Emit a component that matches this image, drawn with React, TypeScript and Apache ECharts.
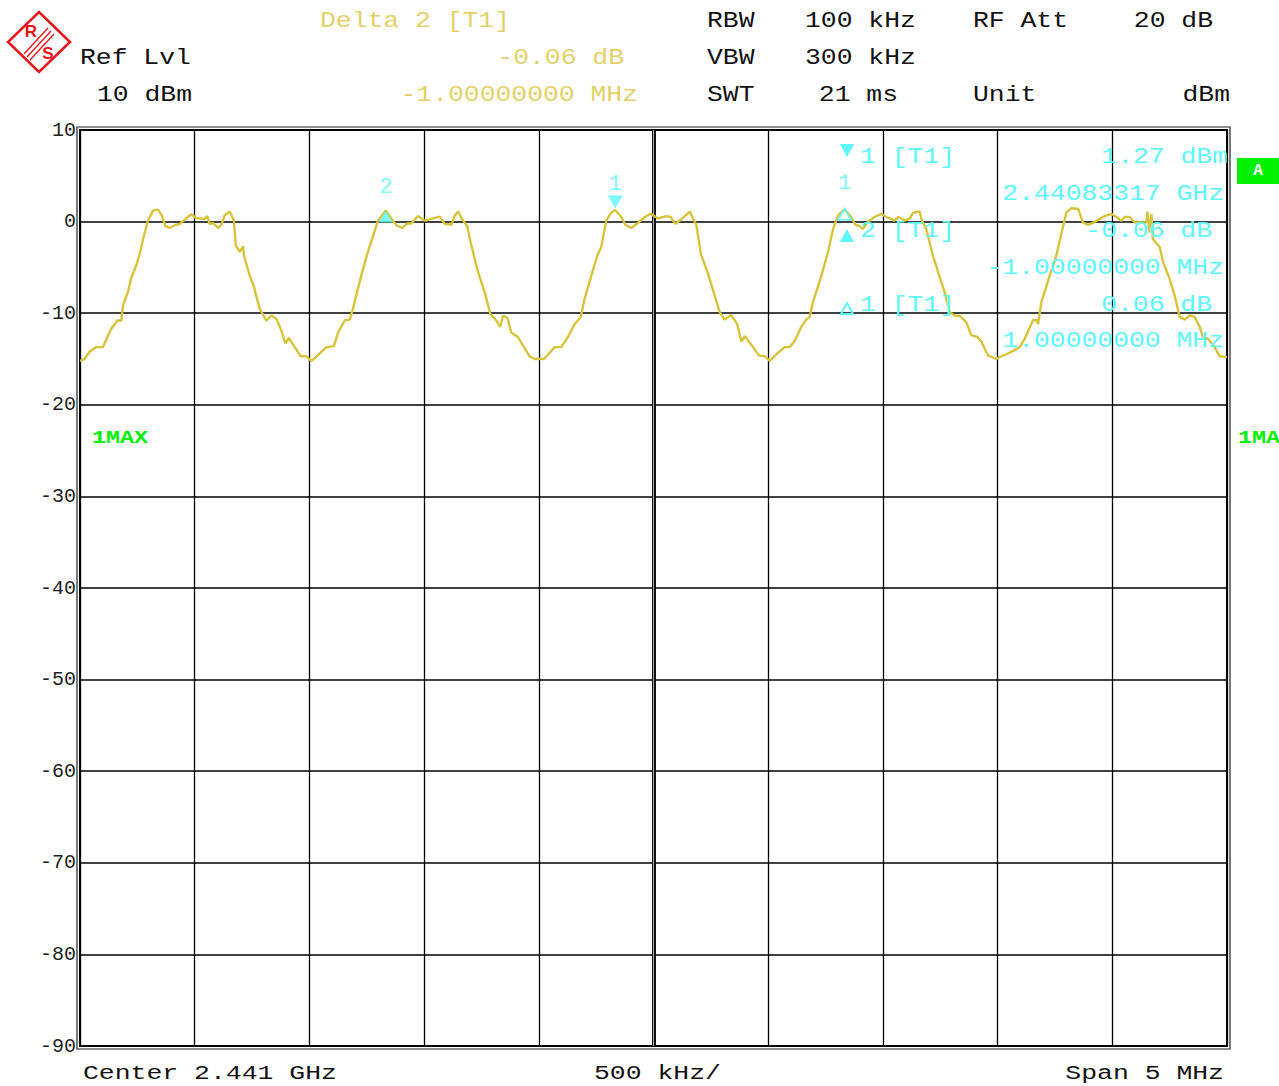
import React, { useEffect, useRef } from "react";
import * as echarts from "echarts";

// Frequency offset from center (MHz) and level (dBm) of the MAX trace
const traceFreqMHz = [
  -2.5, -2.48, -2.458, -2.429, -2.4, -2.364, -2.337, -2.32, -2.313, -2.291, -2.276, -2.255, -2.237, -2.225, -2.204, -2.182, -2.16, -2.143, -2.128, -2.109, -2.087, -2.065, -2.044, -2.015, -1.993, -1.956, -1.945, -1.935, -1.92, -1.898, -1.884, -1.869, -1.847, -1.829, -1.821, -1.804, -1.789, -1.785, -1.76, -1.743, -1.717, -1.688, -1.666, -1.644, -1.622, -1.605, -1.59, -1.564, -1.538, -1.514, -1.492,
  -1.477, -1.426, -1.393, -1.375, -1.346, -1.324, -1.31, -1.274, -1.245, -1.215, -1.201, -1.167, -1.136, -1.121, -1.096, -1.073, -1.056, -1.027, -0.997, -0.961, -0.932, -0.91, -0.881, -0.867, -0.852, -0.835, -0.812, -0.794, -0.765, -0.736, -0.711, -0.685, -0.668, -0.656, -0.637, -0.62, -0.591, -0.562, -0.54, -0.518, -0.489,
  -0.477, -0.431, -0.402, -0.373, -0.344, -0.317, -0.3, -0.271, -0.245, -0.228, -0.206, -0.184, -0.167, -0.14, -0.123, -0.097, -0.068, -0.038, -0.012, 0.02, 0.056, 0.075, 0.095, 0.119, 0.158, 0.187, 0.206, 0.238, 0.267, 0.289, 0.31, 0.339, 0.365, 0.383, 0.398, 0.412, 0.434, 0.459, 0.485, 0.507,
  0.535, 0.572, 0.594, 0.616, 0.644, 0.666, 0.681, 0.695, 0.732, 0.761, 0.783, 0.804, 0.833, 0.862, 0.88, 0.899, 0.913, 0.935, 0.964, 0.993, 1.015, 1.037, 1.048, 1.069, 1.095, 1.117, 1.131, 1.16, 1.17, 1.189, 1.218, 1.248, 1.269, 1.291, 1.313, 1.335, 1.364, 1.385, 1.412, 1.429, 1.458, 1.494, 1.516,
  1.545, 1.575, 1.596, 1.618, 1.654, 1.669, 1.676, 1.691, 1.727, 1.756, 1.778, 1.8, 1.821, 1.851, 1.872, 1.894, 1.916, 1.938, 1.967, 1.996, 2.018, 2.039, 2.054, 2.076, 2.098, 2.127, 2.148, 2.153, 2.163, 2.17, 2.177, 2.207, 2.221, 2.25, 2.272, 2.294, 2.316, 2.337, 2.359, 2.381, 2.395, 2.417, 2.446, 2.468, 2.5,
];
const traceLevelDbm = [
  -15.2, -15.0, -14.2, -13.7, -13.7, -11.7, -10.8, -10.8, -9.2, -7.7, -6.1, -4.8, -3.3, -1.9, 0.1, 1.2, 1.3, 0.65, -0.5, -0.7, -0.4, -0.25, 0.2, 0.8, 0.4, 0.3, 0.6, -0.25, -0.15, -0.7, -0.35, 0.7, 1.1, 0.1, -2.6, -3.3, -2.7, -3.7, -5.9, -7.0, -9.5, -10.8, -10.25, -10.6, -11.9, -13.3, -12.7, -13.7, -14.7, -14.7, -15.2,
  -14.9, -13.7, -13.6, -12.1, -10.8, -10.7, -9.5, -5.9, -3.3, -1.0, 0.1, 1.21, 0.1, -0.4, -0.7, -0.2, -0.2, 0.6, 0.1, 0.35, 0.55, -0.25, -0.35, 0.65, 1.1, 0.3, -0.5, -2.6, -5.5, -7.7, -10.1, -10.8, -11.5, -10.25, -10.5, -12.1, -12.6, -13.8, -14.7, -15.0, -15.0,
  -15.0, -13.7, -13.7, -12.6, -11.2, -10.4, -8.4, -5.9, -3.7, -2.8, 0.1, 1.0, 1.27, 0.5, -0.35, -0.7, -0.15, 0.5, 0.85, 0.35, 0.6, 0.5, -0.25, 0.2, 1.1, -0.4, -3.5, -5.7, -8.1, -9.9, -10.7, -10.2, -11.2, -13.1, -12.5, -13.0, -13.7, -14.6, -14.7, -15.2,
  -14.5, -13.7, -13.7, -13.0, -11.5, -10.7, -10.4, -8.8, -5.9, -3.3, -0.8, 0.65, 1.33, 0.5, -0.35, -0.5, -0.8, 0.0, 0.5, 0.85, 0.5, 0.3, 0.1, 0.5, 0.1, 0.35, 0.95, 1.1, 0.1, -0.8, -3.7, -6.1, -7.7, -9.9, -10.25, -10.3, -11.0, -12.4, -12.6, -13.1, -14.6, -15.0, -14.7,
  -14.4, -14.0, -13.7, -12.8, -10.8, -10.7, -11.2, -8.8, -5.9, -3.7, -1.3, 1.0, 1.45, 1.4, -0.1, -0.35, -0.15, 0.2, 0.6, 0.85, 0.5, 0.1, 0.5, 0.5, -0.1, -0.1, -0.1, 1.1, -1.2, 0.85, -1.9, -2.8, -4.4, -6.25, -8.1, -10.4, -10.7, -10.25, -10.4, -11.5, -12.6, -12.8, -13.7, -14.7, -14.8,
];

// Markers: label, frequency offset (MHz), level (dBm)
const markerLabels = ["2", "1", "1"];
const markerFreqMHz = [-1.167, -0.167, 0.833];
const markerLevelDbm = [1.21, 1.27, 1.33];

// Axes
const yMin = -90;
const yMax = 10;
const yStep = 10;
const xMin = -2.5;
const xMax = 2.5;
const xStep = 0.5;

const MONO = '"Liberation Mono", "Courier New", monospace';
const TRACE = "#d6c43c";
const HDR_YELLOW = "#e2d16a";
const CYAN = "#5ef8f8";
const GREEN = "#00f000";

function txt(text: string, x: number, y: number, fill: string, align: string = "left", size = 22, sx = 1.2, bold = false) {
  return {
    type: "text",
    x,
    y,
    scaleX: sx,
    z: 100,
    style: {
      text,
      fill,
      font: `${bold ? "bold " : ""}${size}px ${MONO}`,
      align,
      verticalAlign: "middle",
      textAlign: align,
      textVerticalAlign: "middle",
    },
  };
}

export default function App() {
  const ref = useRef<HTMLDivElement>(null);
  useEffect(() => {
    const chart = echarts.init(ref.current!, null, { renderer: "svg" });
    const traceData = traceFreqMHz.map((f, i) => [f, traceLevelDbm[i]]);
    const markerData = markerFreqMHz.map((f, i) => {
      const base: any = {
        value: [f, markerLevelDbm[i]],
        itemStyle: { color: CYAN },
        label: {
          show: true,
          formatter: markerLabels[i],
          position: "top",
          color: CYAN,
          fontFamily: MONO,
          fontSize: 22,
        },
      };
      if (i === 0) {
        base.symbol = "triangle";
        base.symbolSize = [14, 12];
        base.symbolOffset = [0, 6];
        base.label.distance = 12;
      } else if (i === 1) {
        base.symbol = "path://M0,0 L14,0 L7,13 Z";
        base.symbolSize = [15, 13];
        base.symbolOffset = [0, -8];
        base.label.distance = 0;
      } else {
        base.symbol = "triangle";
        base.symbolSize = [13, 11];
        base.symbolOffset = [0, 5];
        base.itemStyle = { color: "rgba(0,0,0,0)", borderColor: CYAN, borderWidth: 2 };
        base.label.distance = 13;
      }
      return base;
    });

    const graphic: any[] = [
      // header
      txt("Delta 2 [T1]", 320, 21, HDR_YELLOW),
      txt("RBW", 707, 21, "#111"),
      txt("100 kHz", 805, 21, "#111"),
      txt("RF Att", 973, 21, "#111"),
      txt("20 dB", 1213, 21, "#111", "right"),
      txt("Ref Lvl", 80, 58, "#111"),
      txt("-0.06 dB", 624, 58, HDR_YELLOW, "right"),
      txt("VBW", 707, 58, "#111"),
      txt("300 kHz", 805, 58, "#111"),
      txt("10 dBm", 97, 95, "#111"),
      txt("-1.00000000 MHz", 638, 95, HDR_YELLOW, "right"),
      txt("SWT", 707, 95, "#111"),
      txt("21 ms", 898, 95, "#111", "right"),
      txt("Unit", 973, 95, "#111"),
      txt("dBm", 1230, 95, "#111", "right"),
      // footer
      txt("Center 2.441 GHz", 83, 1073, "#111", "left", 21, 1.26),
      txt("500 kHz/", 594, 1073, "#111", "left", 21, 1.26),
      txt("Span 5 MHz", 1224, 1073, "#111", "right", 21, 1.26),
      // marker info block
      txt("1 [T1]", 860, 157, CYAN),
      txt("1.27 dBm", 1228, 157, CYAN, "right"),
      txt("2.44083317 GHz", 1224, 194, CYAN, "right"),
      txt("2 [T1]", 860, 231, CYAN),
      txt("-0.06 dB", 1212, 231, CYAN, "right"),
      txt("-1.00000000 MHz", 1224, 268, CYAN, "right"),
      txt("1 [T1]", 860, 305, CYAN),
      txt("0.06 dB", 1212, 305, CYAN, "right"),
      txt("1.00000000 MHz", 1224, 341, CYAN, "right"),
      { type: "polygon", z: 100, shape: { points: [[840, 144], [854, 144], [847, 157]] }, style: { fill: CYAN } },
      { type: "polygon", z: 100, shape: { points: [[840, 242], [854, 242], [847, 229]] }, style: { fill: CYAN } },
      { type: "polygon", z: 100, shape: { points: [[841, 314], [853, 314], [847, 303]] }, style: { fill: "none", stroke: CYAN, lineWidth: 2 } },
      // trace labels
      txt("1MAX", 92, 438, GREEN, "left", 18, 1.3, true),
      txt("1MA", 1238, 438, GREEN, "left", 18, 1.3, true),
      { type: "rect", z: 100, shape: { x: 1237, y: 158, width: 42, height: 26 }, style: { fill: GREEN } },
      { type: "text", z: 101, x: 1258, y: 171, style: { text: "A", fill: "#fff", font: `bold 16px ${MONO}`, align: "center", verticalAlign: "middle", textAlign: "center", textVerticalAlign: "middle" } },
      // outer border of the grid (double line look)
      { type: "rect", z: 50, shape: { x: 77, y: 127, width: 1153, height: 922 }, style: { fill: "none", stroke: "#222", lineWidth: 1.2 } },
      // logo
      { type: "polygon", z: 100, shape: { points: [[39, 12], [70, 42], [39, 72], [8, 42]] }, style: { fill: "#fff", stroke: "#e8141c", lineWidth: 2.5 } },
      { type: "line", z: 101, shape: { x1: 24, y1: 54, x2: 48, y2: 28 }, style: { stroke: "#e8141c", lineWidth: 1.3 } },
      { type: "line", z: 101, shape: { x1: 27, y1: 57, x2: 51, y2: 31 }, style: { stroke: "#e8141c", lineWidth: 1.3 } },
      { type: "line", z: 101, shape: { x1: 30, y1: 60, x2: 54, y2: 34 }, style: { stroke: "#e8141c", lineWidth: 1.3 } },
      { type: "text", z: 101, x: 31, y: 31, style: { text: "R", fill: "#e8141c", font: `bold 17px "Liberation Sans", sans-serif`, align: "center", verticalAlign: "middle", textAlign: "center", textVerticalAlign: "middle" } },
      { type: "text", z: 101, x: 48, y: 53, style: { text: "S", fill: "#e8141c", font: `bold 17px "Liberation Sans", sans-serif`, align: "center", verticalAlign: "middle", textAlign: "center", textVerticalAlign: "middle" } },
    ];

    chart.setOption({
      animation: false,
      backgroundColor: "#fff",
      grid: {
        left: 80,
        right: 52,
        top: 130,
        bottom: 40,
        show: true,
        borderColor: "#000",
        borderWidth: 2,
        backgroundColor: "#fff",
      },
      xAxis: {
        type: "value",
        min: xMin,
        max: xMax,
        interval: xStep,
        axisLabel: { show: false },
        axisTick: { show: false },
        axisLine: { show: false },
        splitLine: { show: true, lineStyle: { color: "#000", width: 1.3 } },
      },
      yAxis: {
        type: "value",
        min: yMin,
        max: yMax,
        interval: yStep,
        axisLabel: {
          color: "#222",
          fontFamily: MONO,
          fontSize: 20,
          margin: 4,
          formatter: (v: number) => String(v),
        },
        axisTick: { show: false },
        axisLine: { show: false },
        splitLine: { show: true, lineStyle: { color: "#000", width: 1.5 } },
      },
      graphic,
      series: [
        {
          type: "line",
          data: traceData,
          showSymbol: false,
          symbol: "none",
          lineStyle: { color: TRACE, width: 2.4 },
          z: 3,
          markLine: {
            silent: true,
            symbol: ["none", "none"],
            label: { show: false },
            z: 2,
            data: [
              { xAxis: 0, lineStyle: { color: "#111", width: 4, type: "solid" } },
              { xAxis: 0, lineStyle: { color: "#aaa", width: 1, type: "solid" } },
            ],
          },
        },
        {
          type: "scatter",
          data: markerData,
          z: 5,
        },
      ],
    });
    return () => chart.dispose();
  }, []);
  return (
    <div
      ref={ref}
      style={{ position: "absolute", left: 0, top: 0, width: 1279, height: 1086, background: "#fff" }}
    />
  );
}
